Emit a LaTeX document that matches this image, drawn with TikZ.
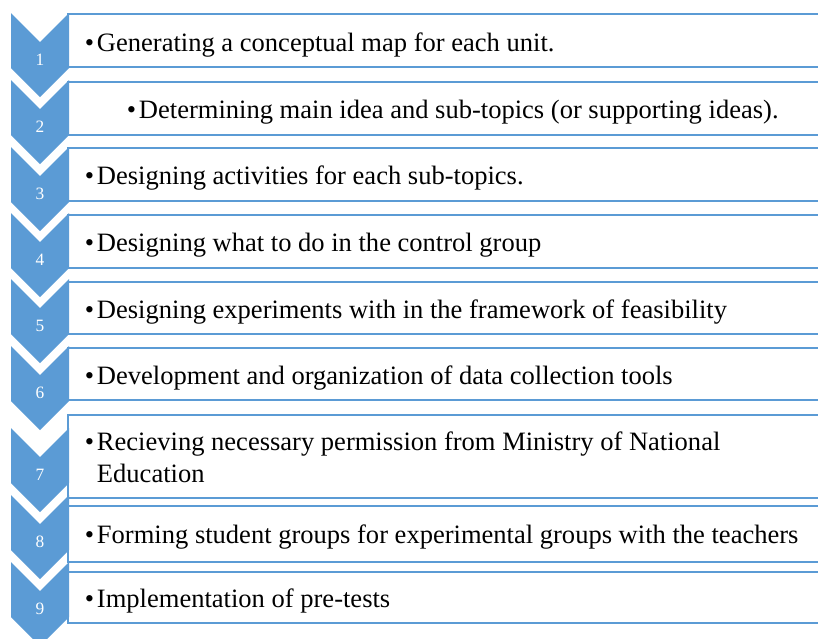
\documentclass[tikz,border=0pt]{standalone}
\usepackage{fontspec}
\setmainfont{Liberation Serif}
\definecolor{accent}{RGB}{91,155,213}
\newcommand{\bul}{•\hspace{2.2pt}}
\newcommand{\bulgap}{\phantom{•}\hspace{2.2pt}}
\begin{document}
\begin{tikzpicture}[x=0.75pt,y=-0.75pt,
  stepbox/.style={draw=accent,line width=1.4pt},
  chev/.style={fill=accent},
  num/.style={text=white,font=\fontsize{13}{15}\selectfont,inner sep=0pt,anchor=base},
  item/.style={font=\fontsize{19.9}{24}\selectfont,inner sep=0pt,anchor=base west}]
\useasboundingbox (0,0) rectangle (818,639);
\clip (0,0) rectangle (818,639);
% text boxes, open to the right
\foreach \t/\b in {14/67,82/135,148/201,215/268,282/334,348/400,415/498,506/562,572/623}
  \draw[stepbox] (840,\t) -- (68,\t) -- (68,\b) -- (840,\b);
% numbered chevrons
\foreach \n/\t in {1/13,2/80,3/147,4/213,5/279,6/346,7/428,8/495,9/562} {
  \fill[chev] (11,\t) -- (40,\t+29) -- (69,\t) -- (69,\t+55) -- (40,\t+84) -- (11,\t+55) -- cycle;
  \node[num] (n\n) at (40,\t+52) {\n};
}
% step descriptions
\node[item] (t1) at (84.5,51) {\bul Generating a conceptual map for each unit.};
\node[item] (t2) at (126.5,118.5) {\bul Determining main idea and sub-topics (or supporting ideas).};
\node[item] (t3) at (84.5,184.5) {\bul Designing activities for each sub-topics.};
\node[item] (t4) at (84.5,251.5) {\bul Designing what to do in the control group};
\node[item] (t5) at (84.5,318) {\bul Designing experiments with in the framework of feasibility};
\node[item] (t6) at (84.5,384) {\bul Development and organization of data collection tools};
\node[item] (t7) at (84.5,450) {\begin{tabular}[t]{@{}l@{}}\bul Recieving necessary permission from Ministry of National\\ \bulgap Education\end{tabular}};
\node[item] (t8) at (84.5,543) {\bul Forming student groups for experimental groups with the teachers};
\node[item] (t9) at (84.5,607) {\bul Implementation of pre-tests};
\end{tikzpicture}
\end{document}
